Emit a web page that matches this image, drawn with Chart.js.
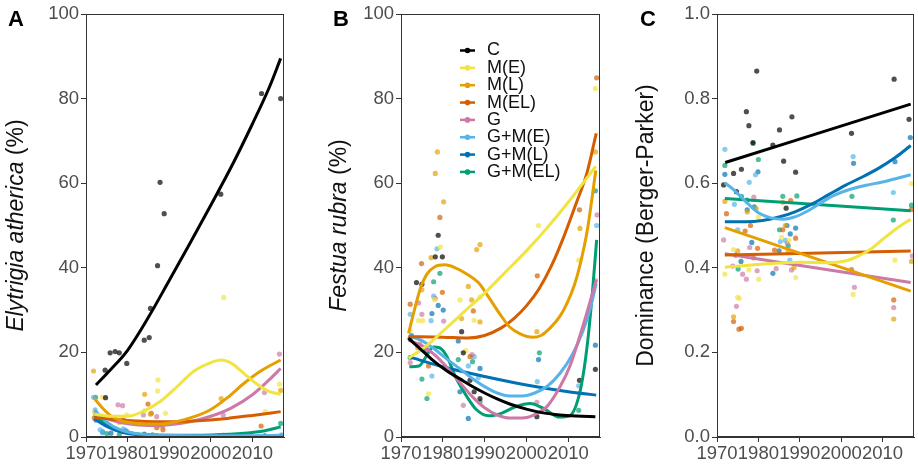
<!DOCTYPE html>
<html>
<head>
<meta charset="utf-8">
<script src="https://cdn.jsdelivr.net/npm/chart.js@4.4.1/dist/chart.umd.min.js"></script>
<style>
  html, body { margin: 0; padding: 0; background: #fff; }
  #wrap { position: relative; width: 918px; height: 468px; overflow: hidden; }
  canvas { position: absolute; top: 0; }
</style>
</head>
<body>
<div id="wrap">
  <canvas id="panelA" width="300" height="468" style="left:0px"></canvas>
  <canvas id="panelB" width="312" height="468" style="left:300px"></canvas>
  <canvas id="panelC" width="306" height="468" style="left:612px"></canvas>
</div>
<script>
const treatments = ['C', 'M(E)', 'M(L)', 'M(EL)', 'G', 'G+M(E)', 'G+M(L)', 'G+M(EL)'];
const yearTicks = [1970, 1980, 1990, 2000, 2010];
const percentTicks = [0, 20, 40, 60, 80, 100];
const dominanceTicks = [0, 0.2, 0.4, 0.6, 0.8, 1.0];

// Panel A - Elytrigia atherica cover, [year, %], one list per treatment
const elytrigiaPoints = [
  [[1974.6,15.8],[1974.7,9.3],[1975.8,19.9],[1977,20.2],[1978,19.9],[1979.8,17.4],[1984,22.9],[1985.2,23.5],[1985.5,30.4],[1987.2,40.5],[1987.8,60.2],[1988.8,52.8],[2002.4,57.4],[2012.2,81.2],[2016.8,80.0]],
  [[1972,5.8],[1974,9.4],[1977,4.5],[1979.8,5.2],[1984,6.2],[1987.3,13.5],[1987.2,10.9],[1989.1,5.6],[2003.1,33],[2013.1,6],[2016.5,12.5]],
  [[1971.8,15.6],[1975,3.2],[1978,3.5],[1984.1,10.1],[1985.5,5.4],[1988,2.6],[2002.5,9.1],[2016.8,11]],
  [[1972,4.5],[1979,4],[1984.9,7.8],[1985.7,5.6],[1987,2.2],[1988.5,1.7],[2012.1,2.6]],
  [[1977.7,7.6],[1978.8,7.4],[1980,1.2],[1983.8,5.2],[1987,4.8],[1988.5,2.6],[2003,5.2],[2012.9,10.5],[2016.5,19.6]],
  [[1971.8,9.4],[1972.2,6.4],[1973.4,1.7],[1974,1],[1979,1.9],[1985,0.4],[1988,0.2],[2003,0.3],[2013,0.2],[2017,0.5]],
  [[1972.4,4],[1974,1.2],[1976,0.9],[1979.5,1.5],[1984,0.5],[1987,0.3],[2003,0.2],[2013,0.2],[2017,0.3]],
  [[1972.3,9.4],[1972.4,5.5],[1975,0.8],[1978,0.5],[1984,0.7],[1986,0.5],[2003,0.4],[2013,0.3],[2016.8,3.2]]
];
const elytrigiaFits = [
  [[1972.4,12.3],[1976,16.0],[1980,20.5],[1985,28.3],[1990,37.0],[1995,45.8],[2000,54.8],[2005,64.0],[2010,74.0],[2014,82.5],[2016.8,89.5]],
  [[1972,5.4],[1976,4.9],[1980,4.9],[1984,6.2],[1988,8.5],[1992,12],[1996,15.6],[2000,17.6],[2002.5,18.2],[2005,17.4],[2008,15],[2011,12.6],[2014,10.8],[2016.8,10.1]],
  [[1972,9.1],[1974,6.8],[1976,5],[1978,4],[1980,3.5],[1984,3.1],[1988,3.1],[1992,3.7],[1996,4.8],[2000,6.5],[2004,9.3],[2008,12.7],[2012,15.6],[2016.8,18.2]],
  [[1972,4.6],[1980,3.9],[1988,3.6],[1996,3.8],[2004,4.4],[2010,5.1],[2016.8,6.0]],
  [[1972,5.5],[1976,4],[1980,3.1],[1985,2.7],[1990,2.9],[1995,3.6],[2000,4.9],[2005,6.9],[2010,10.0],[2014,13.5],[2016.8,16.2]],
  [[1972,6.4],[1975,3.5],[1978,1.8],[1982,0.8],[1990,0.4],[2000,0.3],[2010,0.3],[2016.8,0.4]],
  [[1972,4.3],[1975,2.5],[1978,1.3],[1982,0.6],[1990,0.3],[2000,0.2],[2010,0.2],[2016.8,0.3]],
  [[1972,5.0],[1975,3],[1978,1.6],[1982,0.8],[1990,0.4],[2000,0.5],[2008,0.9],[2013,1.5],[2016.8,2.4]]
];

// Panel B - Festuca rubra cover
const festucaPoints = [
  [[1972.2,23.3],[1973.7,36.5],[1975,36.1],[1978.2,42.6],[1978.9,47.7],[1979.9,42.6],[1984.5,24.9],[1984.9,19.9],[1986.5,13.4],[1987.5,10.7],[1988.9,9.1],[2002.5,4.8],[2012.7,13.4],[2016.5,16.0]],
  [[1972.2,25.1],[1974.2,27.5],[1975.2,27.5],[1976.6,10.2],[1978,32.5],[1979.4,44.9],[1984.1,32.4],[1985.5,20.4],[1987.5,27.6],[1988.9,33.1],[2002.9,50.0],[2012.5,41.8],[2016.5,82.4]],
  [[1974,21.1],[1975,34.8],[1977.2,42.4],[1978.2,62.3],[1978.7,67.4],[1980.2,55.6],[1984.5,28.0],[1986.1,35.6],[1986.9,32.4],[1988.1,44.3],[1988.9,45.5],[1988.9,27.2],[2002.5,24.9],[2012.8,49.3],[2016.5,67.4]],
  [[1972.2,31.4],[1974.9,41.0],[1976,21.1],[1976.6,16.8],[1979.3,51.9],[1979.9,34.2],[1986.5,19],[1987.3,29.8],[2002.6,38.1],[2012.7,53.7],[2016.8,84.9]],
  [[1972.2,17.6],[1974.2,31.7],[1974.5,22],[1975,29],[1976.2,20],[1978.2,32.8],[1980.2,27.4],[1984.9,7.5],[1987,19.5],[2002.5,8.2],[2016.5,37],[2016.9,52.5]],
  [[1972.2,29.0],[1977.2,27.5],[1977.4,14.4],[1977.8,33.3],[1978.6,44.5],[1986.1,16.8],[1987.5,19],[1988.5,14.0],[2002.6,13.1],[2012.5,12.1],[2016.8,50.0]],
  [[1972.5,24],[1975.5,20.5],[1977.4,29.2],[1978.9,31.1],[1980.1,30.0],[1983.7,22.7],[1984.1,10.7],[1986.1,4.4],[1988.9,16.2],[2002.9,18.3],[2016.5,21.7]],
  [[1972.2,18.8],[1975,13.7],[1976.2,9.1],[1977.8,36.7],[1979.3,38.7],[1983.7,18.3],[1987.1,17.8],[1988.9,8.3],[2003.1,19.9],[2012.5,6.3],[2016.5,58.2]]
];
const festucaFits = [
  [[1971.8,23.3],[1975,20.5],[1978,17.8],[1981,15.6],[1984,13.8],[1987,12.0],[1990,10.4],[1993,9.0],[1996,7.8],[2000,6.6],[2004,5.7],[2008,5.2],[2012,4.95],[2016.5,4.8]],
  [[1971.8,18.6],[1976,21.5],[1980,25],[1985,29.5],[1990,34],[1995,39],[2000,44],[2005,49.5],[2010,55.5],[2016.6,64]],
  [[1971.8,24.5],[1973.2,30],[1974.6,35],[1976.2,38.5],[1978,40.2],[1980.5,40.7],[1983,40],[1985.8,38.5],[1988.5,36.5],[1991,33],[1993.7,29],[1996,26],[1998.5,24.4],[2001.5,23.6],[2003.5,24],[2005.7,25.8],[2008,28.5],[2009.7,31.6],[2011.5,36],[2012.9,41],[2014.5,48.5],[2016.6,63]],
  [[1971.8,23.7],[1980,23.6],[1986,23.4],[1990,24.0],[1994,25.8],[1997,28.0],[2000,31.0],[2003,35.0],[2006,40.5],[2009,47.5],[2012,55.5],[2014.5,62.5],[2016.7,71.8]],
  [[1971.8,22.9],[1975,21.6],[1978,19.5],[1981,16.5],[1984,13],[1987,9.6],[1990,6.9],[1993,5.2],[1996,4.5],[1999,4.5],[2002,5.3],[2005,7.3],[2008,11.8],[2010.5,17],[2012.5,23],[2014.5,29.5],[2016.7,37.1]],
  [[1971.8,23.9],[1975,22.8],[1978,20.8],[1981,18.4],[1984,16.2],[1987,13.9],[1990,11.9],[1993,10.4],[1996,9.7],[1999,9.7],[2002,10.4],[2005,12.0],[2008,15.0],[2011,19.5],[2013.5,25],[2015.3,30.5],[2016.7,36.3]],
  [[1971.8,19],[1980,16.6],[1990,14.3],[2000,12.3],[2010,10.7],[2016.7,9.9]],
  [[1972,16.6],[1974.3,16.8],[1976,19],[1977.7,21.3],[1979.2,21.1],[1981,19],[1983,14.3],[1985.8,9.5],[1988,6.5],[1991,5.0],[1994,5.6],[1997.5,7.2],[2000.9,7.9],[2004,6.8],[2008,4.7],[2010.3,5.0],[2012.9,11.1],[2014.5,21.3],[2015.7,33.2],[2016.8,46.6]]
];

// Panel C - Berger-Parker dominance
const dominancePoints = [
  [[1971.6,0.596],[1974,0.623],[1974.7,0.580],[1975.9,0.633],[1977.1,0.769],[1977.7,0.736],[1978.7,0.696],[1979.6,0.865],[1983.5,0.690],[1985.1,0.726],[1986.1,0.652],[1986.7,0.541],[1988.1,0.757],[1989,0.626],[2002.5,0.718],[2012.8,0.846],[2016.4,0.751]],
  [[1971.9,0.385],[1974,0.443],[1975,0.33],[1975.4,0.328],[1977.7,0.395],[1980,0.52],[1980.1,0.373],[1985.6,0.472],[1987.4,0.465],[1989,0.377],[2002.9,0.337],[2013,0.418],[2017,0.599]],
  [[1971.9,0.557],[1974,0.284],[1975,0.44],[1977.3,0.532],[1979.5,0.540],[1985.9,0.555],[1986.5,0.50],[1987.2,0.44],[1988.6,0.40],[2012.7,0.279],[2017,0.415]],
  [[1972.3,0.528],[1974,0.273],[1975.3,0.255],[1975.9,0.257],[1976.8,0.487],[1978.1,0.50],[1978.8,0.424],[1979.8,0.446],[1983.9,0.442],[1985.9,0.49],[1987.8,0.559],[1989,0.47],[2002.5,0.396],[2012.7,0.324],[2017,0.538]],
  [[1971.6,0.466],[1973.8,0.404],[1974.7,0.309],[1976.2,0.385],[1977.1,0.373],[1977.9,0.448],[1978.9,0.567],[1979.7,0.393],[1984.3,0.398],[1987,0.458],[1988,0.395],[2003.2,0.354],[2012.7,0.306],[2017.2,0.428]],
  [[1971.9,0.680],[1974.2,0.550],[1975,0.49],[1977.8,0.602],[1979.3,0.62],[1985.3,0.462],[1986.5,0.465],[1987.6,0.418],[2002.9,0.663],[2012.6,0.578]],
  [[1971.9,0.621],[1974.5,0.430],[1975.8,0.415],[1977.3,0.537],[1978.4,0.46],[1979,0.544],[1979.9,0.627],[1983.5,0.387],[1985,0.44],[1986.9,0.50],[1987.7,0.48],[1989,0.494],[2003,0.647],[2013,0.651],[2016.7,0.708]],
  [[1971.9,0.642],[1975.1,0.397],[1975.9,0.569],[1977.2,0.56],[1978.7,0.694],[1980,0.656],[1985.1,0.490],[1985.9,0.569],[1987.2,0.452],[1989.3,0.570],[2002.6,0.569],[2012.6,0.513],[2017,0.548]]
];
const dominanceFits = [
  [[1972,0.649],[2016.8,0.787]],
  [[1971.9,0.401],[1980,0.408],[1990,0.413],[1997,0.412],[2001,0.416],[2004,0.427],[2007,0.443],[2010,0.467],[2013,0.490],[2016.8,0.515]],
  [[1971.9,0.495],[2016.8,0.345]],
  [[1971.9,0.430],[2016.8,0.440]],
  [[1971.9,0.433],[2016.8,0.365]],
  [[1971.9,0.601],[1974,0.585],[1977,0.556],[1980,0.530],[1983,0.518],[1986,0.515],[1989,0.521],[1992,0.535],[1995,0.553],[1998,0.570],[2002,0.585],[2006,0.595],[2010,0.603],[2016.8,0.620]],
  [[1971.9,0.509],[1977,0.509],[1981,0.512],[1985,0.520],[1989,0.533],[1993,0.551],[1997,0.573],[2001,0.595],[2005,0.614],[2009,0.635],[2013,0.660],[2016.8,0.689]],
  [[1971.9,0.564],[2016.8,0.535]]
];

// Okabe-Ito colours, same order as treatments
const palette = ['#000000', '#F0E442', '#E69F00', '#D55E00', '#CC79A7', '#56B4E9', '#0072B2', '#009E73'];

const FONT = "'Liberation Sans', Arial, Helvetica, sans-serif";
Chart.defaults.font.family = FONT;
Chart.defaults.animation = false;

const toXY = arr => arr.map(([x, y]) => ({ x, y }));

// panel box, letter and mixed italic y title
const panelDecor = {
  id: 'panelDecor',
  afterDatasetsDraw(chart, args, opts) {
    const { ctx, chartArea: a } = chart;
    ctx.save();
    ctx.strokeStyle = '#333';
    ctx.lineWidth = 1;
    ctx.strokeRect(Math.round(a.left) + 0.5, Math.round(a.top) + 0.5, Math.round(a.right - a.left) - 1, Math.round(a.bottom - a.top) - 1);
    ctx.restore();
  },
  afterDraw(chart, args, opts) {
    const { ctx, chartArea: a } = chart;
    ctx.save();
    ctx.fillStyle = '#000';
    ctx.font = `bold 22px ${FONT}`;
    ctx.textBaseline = 'alphabetic';
    ctx.fillText(opts.letter, opts.letterX, 26);

    // y axis title
    const size = 23;
    const parts = opts.title;
    const fonts = parts.map(p => `${p[1] ? 'italic ' : ''}${size}px ${FONT}`);
    let total = 0;
    const widths = parts.map((p, i) => { ctx.font = fonts[i]; const w = ctx.measureText(p[0]).width; total += w; return w; });
    ctx.translate(opts.titleX, (a.top + a.bottom) / 2);
    ctx.rotate(-Math.PI / 2);
    ctx.textBaseline = 'middle';
    ctx.textAlign = 'left';
    ctx.fillStyle = '#111';
    let x = -total / 2;
    parts.forEach((p, i) => { ctx.font = fonts[i]; ctx.fillText(p[0], x, 0); x += widths[i]; });
    ctx.restore();
  }
};

// legend drawn inside panel B
const keyLegend = {
  id: 'keyLegend',
  afterDraw(chart, args, opts) {
    if (!opts.show) return;
    const ctx = chart.ctx;
    ctx.save();
    ctx.font = `18px ${FONT}`;
    ctx.textBaseline = 'middle';
    treatments.forEach((t, i) => {
      const y = 50.5 + i * 17.35;
      ctx.strokeStyle = palette[i];
      ctx.lineWidth = 2.5;
      ctx.beginPath();
      ctx.moveTo(160, y);
      ctx.lineTo(175, y);
      ctx.stroke();
      ctx.fillStyle = palette[i];
      ctx.beginPath();
      ctx.arc(167.5, y, 2.8, 0, Math.PI * 2);
      ctx.fill();
      ctx.fillStyle = '#111';
      ctx.fillText(t, 187, y);
    });
    ctx.restore();
  }
};

function makePanel(id, points, fits, cfg) {
  const datasets = [];
  fits.forEach((f, i) => {
    datasets.push({
      label: treatments[i] + ' fit',
      data: toXY(f),
      showLine: true,
      borderColor: palette[i],
      backgroundColor: palette[i],
      borderWidth: 3,
      pointRadius: 0,
      tension: 0.4,
      cubicInterpolationMode: 'monotone',
      order: 1
    });
  });
  points.forEach((p, i) => {
    datasets.push({
      label: treatments[i],
      data: toXY(p),
      showLine: false,
      backgroundColor: palette[i] + 'B0',
      borderWidth: 0,
      pointRadius: 2.6,
      order: 2
    });
  });

  const tickFont = { size: 18.5 };
  return new Chart(document.getElementById(id), {
    type: 'scatter',
    data: { datasets },
    options: {
      responsive: false,
      animation: false,
      layout: { padding: { left: 0, right: cfg.padRight, top: 14, bottom: 0 } },
      plugins: {
        legend: { display: false },
        tooltip: { enabled: false },
        panelDecor: { letter: cfg.letter, letterX: cfg.letterX, titleX: cfg.titleX, title: cfg.title },
        keyLegend: { show: !!cfg.legend }
      },
      scales: {
        x: {
          type: 'linear', min: 1970, max: 2017.6,
          afterBuildTicks: s => { s.ticks = yearTicks.map(v => ({ value: v })); },
          afterFit: s => { s.height = 31; },
          ticks: { autoSkip: false, maxRotation: 0, padding: 1, color: '#4d4d4d', font: tickFont, callback: v => String(v) },
          grid: { drawOnChartArea: false, drawTicks: true, tickLength: 5, color: '#333', lineWidth: 1 },
          border: { display: true, color: '#333', width: 1 }
        },
        y: {
          type: 'linear', min: cfg.yTicks[0], max: cfg.yTicks[cfg.yTicks.length - 1],
          afterBuildTicks: s => { s.ticks = cfg.yTicks.map(v => ({ value: v })); },
          afterFit: s => { s.width = cfg.yWidth; },
          ticks: { autoSkip: false, padding: 2, color: '#4d4d4d', font: tickFont, callback: cfg.yFormat },
          grid: { drawOnChartArea: false, drawTicks: true, tickLength: 5, color: '#333', lineWidth: 1 },
          border: { display: true, color: '#333', width: 1 }
        }
      }
    },
    plugins: [panelDecor, keyLegend]
  });
}

makePanel('panelA', elytrigiaPoints, elytrigiaFits, {
  letter: 'A', letterX: 8, titleX: 17, yWidth: 86, padRight: 16,
  title: [['Elytrigia atherica', true], [' (%)', false]],
  yTicks: percentTicks, yFormat: v => String(v)
});
makePanel('panelB', festucaPoints, festucaFits, {
  letter: 'B', letterX: 33, titleX: 40, yWidth: 101, padRight: 12, legend: true,
  title: [['Festua rubra', true], [' (%)', false]],
  yTicks: percentTicks, yFormat: v => String(v)
});
makePanel('panelC', dominancePoints, dominanceFits, {
  letter: 'C', letterX: 28, titleX: 35, yWidth: 105, padRight: 3,
  title: [['Dominance (Berger-Parker)', false]],
  yTicks: dominanceTicks, yFormat: v => v.toFixed(1)
});
</script>
</body>
</html>
